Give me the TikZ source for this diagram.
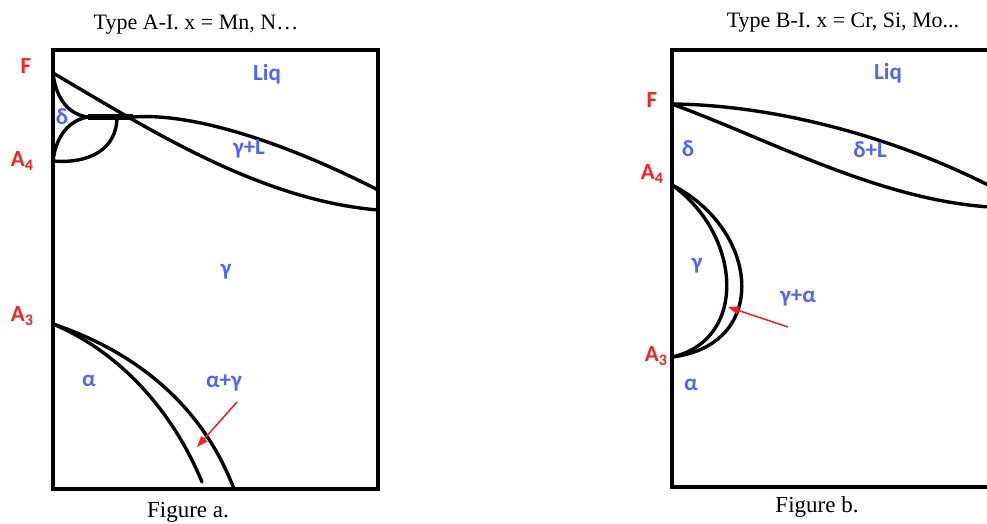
\documentclass[tikz,border=0pt]{standalone}
\usepackage{fontspec}
\setmainfont{Liberation Serif}
\newfontfamily\labelfont{Carlito}
\usepackage{xcolor}
\usepackage{tikz}
\usetikzlibrary{
  arrows.meta,
  calc
}
\definecolor{phasered}{HTML}{FF1E1E}
\definecolor{phaseblue}{HTML}{4F64FF}
\definecolor{ink}{HTML}{000000}
\tikzset{
  >={Triangle[length=11pt,width=8pt]},
  figure title/.style={font=\fontsize{22}{24}\selectfont,align=center,text=ink},
  figure caption/.style={font=\fontsize{23}{25}\selectfont,align=center,text=ink},
  axis mark/.style={font=\labelfont\bfseries\fontsize{23}{25}\selectfont,text=phasered,inner sep=0pt},
  phase label/.style={font=\labelfont\bfseries\fontsize{23}{25}\selectfont,text=phaseblue,inner sep=0pt},
  frame/.style={line width=3.4pt,draw=ink,line join=miter},
  boundary/.style={line width=3.4pt,draw=ink,line cap=round},
  peritectic/.style={line width=6.5pt,draw=ink},
  pointer/.style={->,draw=phasered,fill=phasered,line width=1.5pt}
}
\newcommand{\subidx}[1]{\raisebox{-.3ex}{\fontsize{16}{16}\selectfont#1}}

\begin{document}
\begin{tikzpicture}[x=1pt,y=-1pt]
  \useasboundingbox (0,0) rectangle (987,524);
  \clip (0,0) rectangle (987,524);

  % ---- Type A-I ----
  \node[figure title] (titleA) at (196,25) {Type A-I. x = Mn, N\ldots};
  \draw[frame] (53,50) rectangle (378,489);

  \coordinate (Fa) at (53,73);
  \coordinate (A4a) at (53,161);
  \coordinate (A3a) at (53,324);
  \coordinate (perL) at (88,117);
  \coordinate (perM) at (117,117);
  \coordinate (perR) at (133,117);

  \draw[peritectic] (perL) -- (perR);
  \draw[boundary] (Fa) .. controls (56,100) and (70,115) .. (perL);
  \draw[boundary] (A4a) .. controls (56,135) and (70,120) .. (perL);
  \draw[boundary] (A4a) .. controls (88,164) and (117,150) .. (perM);
  \draw[boundary] (Fa) .. controls (150,130) and (260,200) .. (378,210);
  \draw[boundary] (perR) .. controls (200,112) and (300,150) .. (378,190);
  \draw[boundary] (A3a) .. controls (130,350) and (200,400) .. (234,489);
  \draw[boundary] (A3a) .. controls (115,350) and (170,405) .. (202,482);

  \node[axis mark] (markFa) at (26,66) {F};
  \node[axis mark] (markA4a) at (22,161) {A\subidx{4}};
  \node[axis mark] (markA3a) at (22,316) {A\subidx{3}};

  \node[phase label] (liqA) at (267,74) {Liq};
  \node[phase label] (deltaA) at (62,117) {δ};
  \node[phase label] (gamLA) at (249,149) {γ+L};
  \node[phase label] (gamA) at (226,272) {γ};
  \node[phase label] (alphaA) at (89,381) {α};
  \node[phase label] (twoA) at (224,383) {α+γ};

  \coordinate (tailA) at (237,402);
  \coordinate (tipA) at (197,447);
  \draw[pointer] (tailA) -- (tipA);

  \node[figure caption] (capA) at (188,512) {Figure a.};

  % ---- Type B-I ----
  \node[figure title] (titleB) at (843,23) {Type B-I. x = Cr, Si, Mo...};
  \draw[frame] (995,50) -- (672,50) -- (672,487) -- (995,487);

  \coordinate (Fb) at (672,104);
  \coordinate (A4b) at (672,185);
  \coordinate (A3b) at (672,357);

  \draw[boundary] (Fb) .. controls (780,105) and (900,140) .. (990,186);
  \draw[boundary] (Fb) .. controls (770,140) and (880,200) .. (990,207);
  \draw[boundary] (A4b) .. controls (742,235) and (748,340) .. (A3b);
  \draw[boundary] (A4b) .. controls (760,230) and (770,345) .. (A3b);

  \node[axis mark] (markFb) at (652,100) {F};
  \node[axis mark] (markA4b) at (652,174) {A\subidx{4}};
  \node[axis mark] (markA3b) at (656,356) {A\subidx{3}};

  \node[phase label] (liqB) at (888,73) {Liq};
  \node[phase label] (deltaB) at (688,149) {δ};
  \node[phase label] (delLB) at (870,150) {δ+L};
  \node[phase label] (gamB) at (697,266) {γ};
  \node[phase label] (twoB) at (798,298) {γ+α};
  \node[phase label] (alphaB) at (691,385) {α};

  \coordinate (tailB) at (788,327);
  \coordinate (tipB) at (728,307);
  \draw[pointer] (tailB) -- (tipB);

  \node[figure caption] (capB) at (817,507) {Figure b.};
\end{tikzpicture}
\end{document}
